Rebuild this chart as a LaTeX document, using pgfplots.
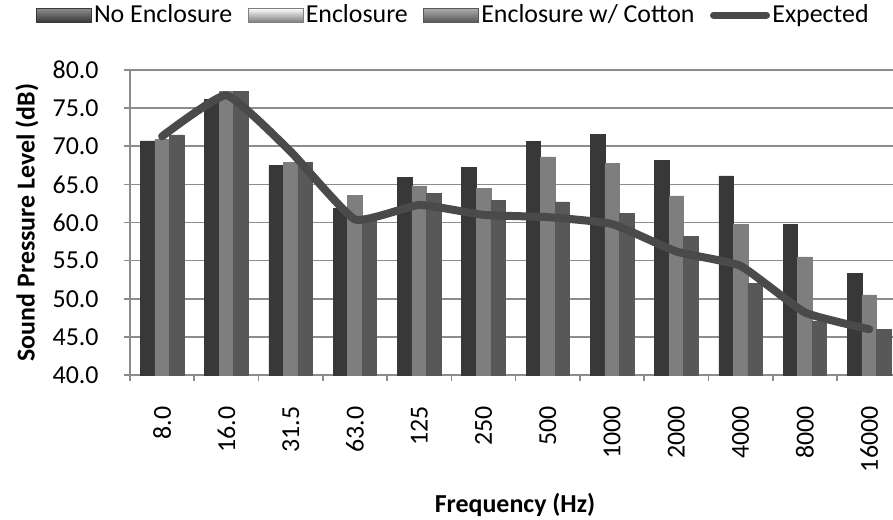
\documentclass[border=0pt]{standalone}
\usepackage{pgfplots}
\pgfplotsset{compat=1.18}
\usepackage{fontspec}
\setmainfont{Carlito}
\definecolor{gridc}{HTML}{8C8C8C}
\definecolor{neD}{HTML}{383838}
\definecolor{neM}{HTML}{5E5E5E}
\definecolor{enD}{HTML}{7E7E7E}
\definecolor{enM}{HTML}{B2B2B2}
\definecolor{coD}{HTML}{585858}
\definecolor{coM}{HTML}{8A8A8A}
\definecolor{linec}{HTML}{4A4A4A}
\newcommand{\chartfont}{\fontsize{13}{15.6}\selectfont}
\begin{document}
\begin{tikzpicture}
\begin{axis}[
  at={(0,0)}, anchor=south west,
  scale only axis, width=381.5bp, height=152.5bp,
  xmin=-0.5, xmax=11.37, ymin=40, ymax=80,
  ytick={40,45,...,80},
  xtick={0,...,11},
  xticklabels={8.0,16.0,31.5,63.0,125,250,500,1000,2000,4000,8000,16000},
  minor xtick={-0.5,0.5,...,10.5},
  major x tick style={draw=none},
  tick align=outside,
  major tick length=3bp, minor tick length=3bp,
  tick style={gridc, line width=0.8bp},
  axis x line*=bottom, axis y line*=left,
  axis line style={gridc, line width=0.8bp, -},
  ymajorgrids, major grid style={gridc, line width=0.8bp},
  /pgf/number format/assume math mode=true,
  yticklabel style={/pgf/number format/fixed, /pgf/number format/fixed zerofill, /pgf/number format/precision=1, inner sep=0pt, font=\chartfont},
  xticklabel style={rotate=90, anchor=east, inner sep=0pt, font=\chartfont},
  xticklabel shift=12.5bp, yticklabel shift=12.5bp,
  xlabel={Frequency (Hz)}, ylabel={Sound Pressure Level (dB)},
  every axis x label/.style={at={(rel axis cs:0.5046,-0.426)}, anchor=center, font=\chartfont\bfseries},
  every axis y label/.style={at={(rel axis cs:-0.135,0.5)}, anchor=center, rotate=90, font=\chartfont\bfseries},
  legend columns=4,
  legend style={at={(rel axis cs:0.424,1.18)}, anchor=center, draw=none, fill=none, font=\chartfont,
    /tikz/every even column/.append style={column sep=6.5bp},
    nodes={inner sep=1.2bp}},
]
\addplot[ybar, bar width=0.226, bar shift=-0.226, left color=neD, middle color=neM, right color=neD, draw=neD, line width=0.3bp,
  legend image code/.code={\shade[top color=neM!70!white, bottom color=neD] (0bp,-3.4bp) rectangle (27.5bp,3.4bp);}]
  coordinates {(0,70.7) (1,76.1) (2,67.5) (3,61.9) (4,65.9) (5,67.2) (6,70.6) (7,71.6) (8,68.1) (9,66.1) (10,59.8) (11,53.3)};
\addlegendentry{No Enclosure}
\addplot[ybar, bar width=0.226, bar shift=0, left color=enD, middle color=enM, right color=enD, draw=enD, line width=0.3bp,
  legend image code/.code={\shade[top color=white, bottom color=enD] (0bp,-3.4bp) rectangle (27.5bp,3.4bp);}]
  coordinates {(0,70.9) (1,77.2) (2,67.9) (3,63.6) (4,64.8) (5,64.5) (6,68.6) (7,67.7) (8,63.5) (9,59.7) (10,55.5) (11,50.5)};
\addlegendentry{Enclosure}
\addplot[ybar, bar width=0.226, bar shift=0.226, left color=coD, middle color=coM, right color=coD, draw=coD, line width=0.3bp,
  legend image code/.code={\shade[top color=coM!70!white, bottom color=coD] (0bp,-3.4bp) rectangle (27.5bp,3.4bp);}]
  coordinates {(0,71.5) (1,77.2) (2,67.9) (3,60.5) (4,63.8) (5,62.9) (6,62.7) (7,61.2) (8,58.2) (9,52.0) (10,47.1) (11,46.0)};
\addlegendentry{Enclosure w/ Cotton}
\addplot[linec, line width=4bp, line cap=round, line join=round, smooth, tension=0.25, mark=none,
  legend image code/.code={\draw[linec, line width=3.5bp, line cap=round] (1.5bp,0bp) -- (28bp,0bp);}]
  coordinates {(0,71.3) (1,76.7) (2,69.3) (3,60.4) (4,62.3) (5,61.0) (6,60.7) (7,59.8) (8,56.2) (9,54.3) (10,48.2) (11,46.0)};
\addlegendentry{Expected}
\end{axis}
\pgfresetboundingbox
\useasboundingbox (-65bp,-72.5bp) rectangle (381.5bp,187.5bp);
\end{tikzpicture}
\end{document}
